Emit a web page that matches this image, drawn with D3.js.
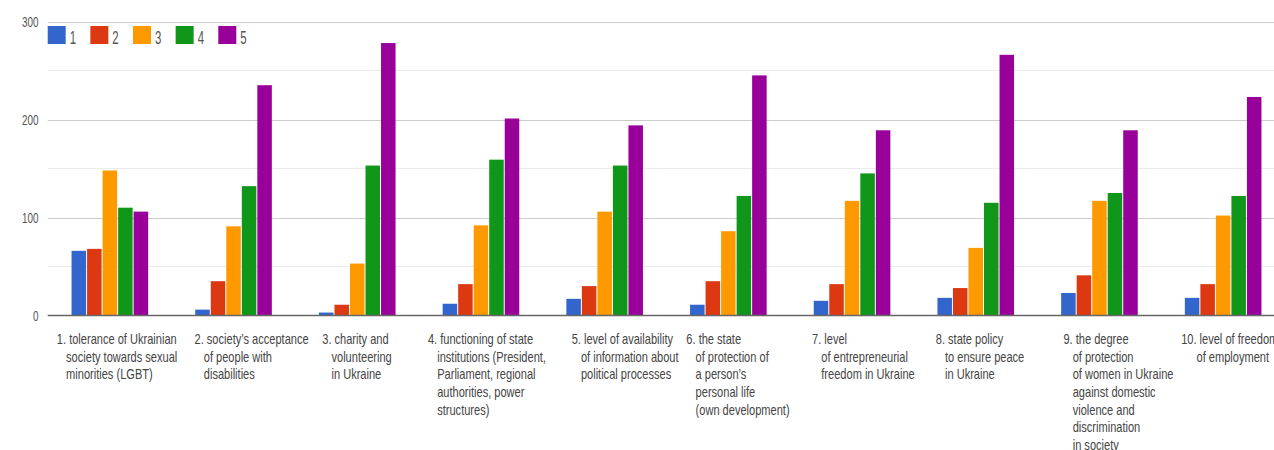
<!DOCTYPE html>
<html>
<head>
<meta charset="utf-8">
<script src="https://cdn.jsdelivr.net/npm/d3@7"></script>
<style>
  html, body { margin: 0; padding: 0; background: #ffffff; overflow: hidden; }
  svg { display: block; }
</style>
</head>
<body>
<svg id="chart" width="1274" height="450"></svg>
<script>
// ---------- data ----------
const series = ["1", "2", "3", "4", "5"];
const categories = [
  ["1. tolerance of Ukrainian", "society towards sexual", "minorities (LGBT)"],
  ["2. society’s acceptance", "of people with", "disabilities"],
  ["3. charity and", "volunteering", "in Ukraine"],
  ["4. functioning of state", "institutions (President,", "Parliament, regional", "authorities, power", "structures)"],
  ["5. level of availability", "of information about", "political processes"],
  ["6. the state", "of protection of", "a person’s", "personal life", "(own development)"],
  ["7. level", "of entrepreneurial", "freedom in Ukraine"],
  ["8. state policy", "to ensure peace", "in Ukraine"],
  ["9. the degree", "of protection", "of women in Ukraine", "against domestic", "violence and", "discrimination", "in society"],
  ["10. level of freedom", "of employment"]
];
const values1 = [66, 6, 3, 12, 17, 11, 15, 18, 23, 18];
const values2 = [68, 35, 11, 32, 30, 35, 32, 28, 41, 32];
const values3 = [148, 91, 53, 92, 106, 86, 117, 69, 117, 102];
const values4 = [110, 132, 153, 159, 153, 122, 145, 115, 125, 122];
const values5 = [106, 235, 278, 201, 194, 245, 189, 266, 189, 223];
const yTicks = [0, 100, 200, 300];
const yMinor = [50, 150, 250];

// ---------- layout / style ----------
const colors = ["#3366cc", "#dc3912", "#ff9900", "#109618", "#990099"];
const allValues = [values1, values2, values3, values4, values5];
const labelDx = [-13, 1, 5, -13, 7, -2, 0, 0, 4, -2];

const svg = d3.select("#chart");
const W = 1274, H = 450;
svg.append("rect").attr("width", W).attr("height", H).attr("fill", "#ffffff");

const plotLeft = 47.7;
const y = d3.scaleLinear().domain([0, 300]).range([315.5, 21.5]);
const x = d3.scaleBand().domain(d3.range(categories.length)).range([48, 1285]).padding(0);
const groupW = 76.6;
const groupOff = (x.bandwidth() - groupW) / 2;
const xs = d3.scaleBand().domain(series).range([0, groupW]).paddingInner(0.065);

// gridlines
svg.append("g").selectAll("line").data(yMinor).join("line")
  .attr("x1", plotLeft).attr("x2", W)
  .attr("y1", d => y(d)).attr("y2", d => y(d))
  .attr("stroke", "#ebebeb").attr("stroke-width", 1);
svg.append("g").selectAll("line").data(yTicks.filter(d => d !== 0)).join("line")
  .attr("x1", plotLeft).attr("x2", W)
  .attr("y1", d => Math.round(y(d)) + 0.5).attr("y2", d => Math.round(y(d)) + 0.5)
  .attr("stroke", "#cccccc").attr("stroke-width", 1);

// bars
const rows = categories.map((c, i) => ({ i, vals: series.map((s, k) => ({ s, k, v: allValues[k][i] })) }));
const groups = svg.append("g").selectAll("g").data(rows).join("g")
  .attr("transform", d => `translate(${x(d.i) + groupOff},0)`);
groups.selectAll("rect").data(d => d.vals).join("rect")
  .attr("x", d => xs(d.s))
  .attr("width", xs.bandwidth())
  .attr("y", d => y(d.v))
  .attr("height", d => y(0) - y(d.v))
  .attr("fill", (d) => colors[d.k]);

// baseline
svg.append("line")
  .attr("x1", plotLeft).attr("x2", W)
  .attr("y1", y(0)).attr("y2", y(0))
  .attr("stroke", "#666666").attr("stroke-width", 1.6);

const FONT = "'Liberation Sans', Arial, sans-serif";

// y tick labels
svg.append("g").selectAll("text").data(yTicks).join("text")
  .attr("transform", d => `translate(38.5,${y(d) + 5.3}) scale(0.66,1)`)
  .attr("text-anchor", "end")
  .attr("font-family", FONT).attr("font-size", 15)
  .attr("fill", "#555555")
  .text(d => d);

// legend
const legend = svg.append("g");
const lg = legend.selectAll("g").data(series).join("g")
  .attr("transform", (d, k) => `translate(${47.7 + k * 42.65},26)`);
lg.append("rect").attr("width", 18).attr("height", 18)
  .attr("fill", (d, k) => colors[k]);
lg.append("text")
  .attr("transform", "translate(22,17.5) scale(0.6,1)")
  .attr("font-family", FONT).attr("font-size", 19)
  .attr("fill", "#555555")
  .text(d => d);

// category labels
const lab = svg.append("g").selectAll("text").data(rows).join("text")
  .attr("font-family", FONT).attr("font-size", 14)
  .attr("fill", "#444444")
  .attr("transform", d => `translate(${x(d.i) + x.bandwidth() / 2 - 40 + labelDx[d.i]},344) scale(0.79,1)`);
lab.each(function (d) {
  const t = d3.select(this);
  const lines = categories[d.i];
  const prefix = lines[0].match(/^\d+\.\s/)[0];
  const probe = t.append("tspan").text(prefix);
  const indent = probe.node().getComputedTextLength();
  probe.remove();
  lines.forEach((ln, j) => {
    t.append("tspan")
      .attr("x", j === 0 ? 0 : indent)
      .attr("y", j * 17.7)
      .text(ln);
  });
});
</script>
</body>
</html>
